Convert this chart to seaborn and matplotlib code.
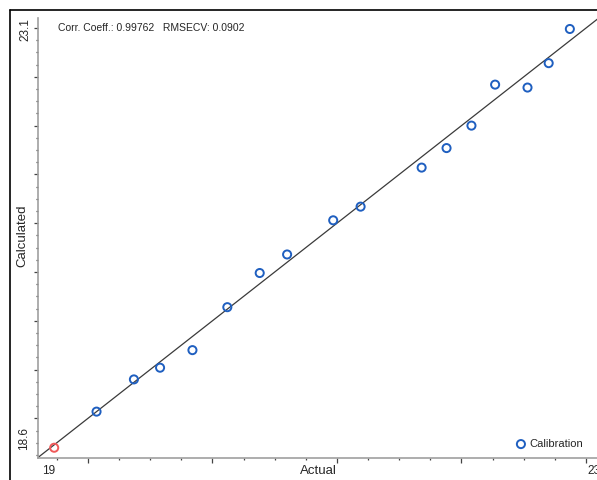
import numpy as np
import pandas as pd
import matplotlib
matplotlib.use("Agg")
import matplotlib.pyplot as plt
from matplotlib.ticker import MultipleLocator, NullFormatter
from matplotlib.lines import Line2D
import seaborn as sns

# ─── DATA ────────────────────────────────────────────────
actual = [18.73, 19.07, 19.37, 19.58, 19.84, 20.12, 20.38, 20.60, 20.97,
          21.19, 21.68, 21.88, 22.08, 22.27, 22.53, 22.70, 22.87]
calculated = [18.70, 19.07, 19.40, 19.52, 19.70, 20.14, 20.49, 20.68, 21.03,
              21.17, 21.57, 21.77, 22.00, 22.42, 22.39, 22.64, 22.99]
highlight = [True] + [False] * 16          # first sample drawn in red
axis_range = [18.6, 23.1]
x_end_labels = ["19", "23"]
y_end_labels = ["18.6", "23.1"]
stats_text = "Corr. Coeff.: 0.99762   RMSECV: 0.0902"

df = pd.DataFrame({"Actual": actual, "Calculated": calculated, "hl": highlight})

# ─── STYLE ───────────────────────────────────────────────
sns.set_style("white")
plt.rcParams["font.family"] = ["Liberation Sans", "DejaVu Sans"]

W, H = 597, 480
fig = plt.figure(figsize=(W / 100, H / 100), dpi=100)
ax = fig.add_axes([38 / W, (H - 457.5) / H, (598.5 - 38) / W, (457.5 - 18.25) / H])

def fx(px):
    return px / W

def fy(py):
    return 1 - py / H

# identity line
sns.lineplot(x=axis_range, y=axis_range, ax=ax, color="#3a3a3a", lw=0.9)

blue = "#1f5fc0"
red = "#f05a5a"
sns.scatterplot(data=df[~df.hl], x="Actual", y="Calculated", ax=ax,
                marker="o", s=34, facecolor="none", edgecolor=blue,
                linewidth=1.4, label="Calibration", zorder=3)
sns.scatterplot(data=df[df.hl], x="Actual", y="Calculated", ax=ax,
                marker="o", s=34, facecolor="none", edgecolor=red,
                linewidth=1.4, zorder=3)

ax.set_xlim(axis_range)
ax.set_ylim(axis_range)
ax.set_xlabel("")
ax.set_ylabel("")

# spines / ticks
for s in ["top", "right"]:
    ax.spines[s].set_visible(False)
for s in ["left", "bottom"]:
    ax.spines[s].set_color("#a0a0a0")
    ax.spines[s].set_linewidth(1.2)
ax.xaxis.set_major_locator(MultipleLocator(1))
ax.xaxis.set_minor_locator(MultipleLocator(0.25))
ax.yaxis.set_major_locator(MultipleLocator(0.5))
ax.yaxis.set_minor_locator(MultipleLocator(0.125))
ax.xaxis.set_major_formatter(NullFormatter())
ax.yaxis.set_major_formatter(NullFormatter())
ax.tick_params(which="both", direction="out", color="#444444", width=0.9,
               bottom=True, left=True)
ax.tick_params(axis="x", which="major", length=3.8)
ax.tick_params(axis="x", which="minor", length=1.6)
ax.tick_params(axis="y", which="major", length=3.2)
ax.tick_params(axis="y", which="minor", length=1.6)

# legend
leg = ax.legend(loc="lower right", frameon=False, fontsize=8,
                handlelength=0.8, handletextpad=0.35, borderaxespad=0.0,
                borderpad=0.0)
leg.set_bbox_to_anchor((fx(583), fy(449)), transform=fig.transFigure)

# end labels and axis titles
fig.text(fx(42), fy(471), x_end_labels[0], fontsize=8.5, ha="left", va="center")
fig.text(fx(587), fy(471), x_end_labels[1], fontsize=8.5, ha="left", va="center")
fig.text(fx(24), fy(450), y_end_labels[0], fontsize=8.5, rotation=90,
         ha="center", va="bottom")
fig.text(fx(25), fy(18), y_end_labels[1], fontsize=8.5, rotation=90,
         ha="center", va="top")
fig.text(fx(318), fy(471), "Actual", fontsize=9.5, ha="center", va="center")
fig.text(fx(22), fy(236), "Calculated", fontsize=9.5, rotation=90,
         ha="center", va="center")
fig.text(fx(58), fy(28), stats_text, fontsize=7.5, ha="left", va="center")

# outer frame
fig.add_artist(Line2D([fx(10), fx(10)], [0, fy(10)], color="black", lw=1.2))
fig.add_artist(Line2D([fx(10), 1], [fy(10), fy(10)], color="black", lw=1.2))

fig.savefig("out.png", dpi=100)
